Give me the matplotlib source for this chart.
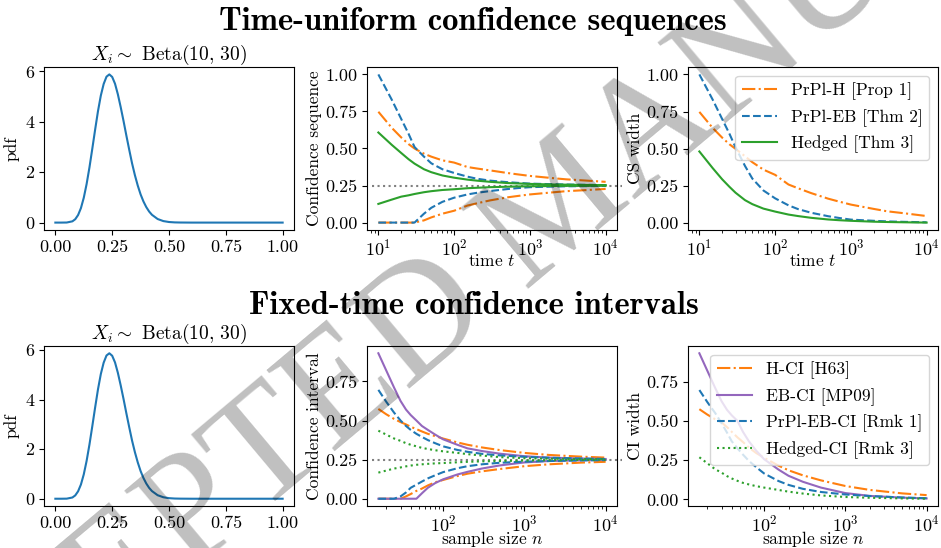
import numpy as np
import matplotlib
matplotlib.use('Agg')
import matplotlib.pyplot as plt
from matplotlib.ticker import FormatStrFormatter

plt.rcParams['font.family'] = 'cmr10'
plt.rcParams['mathtext.fontset'] = 'cm'
plt.rcParams['axes.formatter.use_mathtext'] = True
plt.rcParams['font.size'] = 13
plt.rcParams['axes.labelsize'] = 12.5

# Beta(10, 30) density
x_pdf = [0, 0.025, 0.05, 0.075, 0.0875, 0.1, 0.1125, 0.125, 0.1375, 0.15, 0.1625, 0.175,
         0.1875, 0.2, 0.2125, 0.225, 0.2375, 0.25, 0.2625, 0.275, 0.2875, 0.3, 0.3125,
         0.325, 0.3375, 0.35, 0.3625, 0.375, 0.3875, 0.4, 0.4125, 0.425, 0.45, 0.475,
         0.5, 0.525, 0.55, 0.6, 0.7, 0.8, 0.9, 1.0]
y_pdf = [0, 0, 0.003, 0.05, 0.134, 0.30, 0.575, 0.985, 1.53, 2.19, 2.93, 3.69,
         4.42, 5.04, 5.50, 5.79, 5.88, 5.78, 5.51, 5.09, 4.58, 4.03, 3.45,
         2.89, 2.35, 1.88, 1.47, 1.12, 0.84, 0.615, 0.44, 0.309, 0.142, 0.060,
         0.023, 0.008, 0.003, 0, 0, 0, 0, 0]

# time-uniform confidence sequences (lower / upper bounds)
t_grid = [10, 15, 20, 25, 30, 40, 50, 70, 100, 150, 200, 300, 500, 700, 1000, 2000, 3000, 5000, 10000]
h_hi = [0.748, 0.64, 0.575, 0.53, 0.50, 0.465, 0.445, 0.42, 0.405, 0.375, 0.365, 0.352, 0.335, 0.325, 0.315, 0.30, 0.292, 0.285, 0.275]
h_lo = [0, 0, 0, 0, 0, 0.015, 0.035, 0.06, 0.08, 0.115, 0.13, 0.15, 0.17, 0.18, 0.19, 0.204, 0.212, 0.218, 0.227]
eb_hi = [1.00, 0.83, 0.70, 0.60, 0.51, 0.445, 0.40, 0.36, 0.335, 0.31, 0.296, 0.283, 0.273, 0.268, 0.263, 0.259, 0.257, 0.255, 0.253]
eb_lo = [0, 0, 0, 0, 0, 0.06, 0.10, 0.14, 0.168, 0.19, 0.201, 0.213, 0.226, 0.233, 0.239, 0.243, 0.245, 0.246, 0.247]
hg_hi = [0.608, 0.525, 0.47, 0.428, 0.398, 0.36, 0.34, 0.318, 0.303, 0.29, 0.283, 0.275, 0.267, 0.264, 0.261, 0.257, 0.256, 0.254, 0.253]
hg_lo = [0.126, 0.155, 0.175, 0.184, 0.193, 0.205, 0.212, 0.22, 0.225, 0.232, 0.235, 0.239, 0.242, 0.244, 0.245, 0.247, 0.248, 0.248, 0.249]

# fixed-time confidence intervals (lower / upper bounds)
n_grid = [16, 20, 25, 30, 35, 40, 47, 55, 65, 80, 100, 150, 200, 300, 500, 1000, 2000, 5000, 10000]
hci_hi = [0.574, 0.54, 0.51, 0.49, 0.475, 0.46, 0.445, 0.43, 0.415, 0.40, 0.385, 0.36, 0.345, 0.328, 0.311, 0.293, 0.28, 0.269, 0.263]
hci_lo = [0, 0, 0, 0, 0.015, 0.03, 0.05, 0.065, 0.085, 0.105, 0.12, 0.145, 0.16, 0.175, 0.19, 0.208, 0.22, 0.231, 0.236]
ebci_hi = [0.93, 0.82, 0.71, 0.625, 0.57, 0.535, 0.50, 0.465, 0.44, 0.41, 0.38, 0.345, 0.322, 0.305, 0.288, 0.272, 0.263, 0.257, 0.254]
ebci_lo = [0, 0, 0, 0, 0, 0, 0, 0.035, 0.07, 0.1, 0.124, 0.155, 0.172, 0.193, 0.213, 0.232, 0.241, 0.246, 0.248]
prpl_hi = [0.696, 0.62, 0.55, 0.50, 0.465, 0.44, 0.415, 0.395, 0.375, 0.355, 0.335, 0.312, 0.30, 0.287, 0.277, 0.268, 0.262, 0.257, 0.254]
prpl_lo = [0, 0, 0, 0.015, 0.04, 0.07, 0.09, 0.11, 0.13, 0.15, 0.17, 0.195, 0.208, 0.22, 0.23, 0.237, 0.241, 0.245, 0.247]
hgci_hi = [0.435, 0.41, 0.385, 0.37, 0.355, 0.345, 0.335, 0.325, 0.318, 0.31, 0.303, 0.293, 0.285, 0.276, 0.266, 0.259, 0.256, 0.254, 0.253]
hgci_lo = [0.167, 0.18, 0.193, 0.2, 0.207, 0.212, 0.217, 0.22, 0.223, 0.226, 0.228, 0.233, 0.236, 0.239, 0.241, 0.244, 0.246, 0.248, 0.249]

true_mean = 0.25

ORANGE, BLUE, GREEN, PURPLE = '#ff7f0e', '#1f77b4', '#2ca02c', '#9467bd'

cs_methods = [
    ('PrPl-H [Prop 1]', h_lo, h_hi, ORANGE, '-.'),
    ('PrPl-EB [Thm 2]', eb_lo, eb_hi, BLUE, '--'),
    ('Hedged [Thm 3]', hg_lo, hg_hi, GREEN, '-'),
]
ci_methods = [
    ('H-CI [H63]', hci_lo, hci_hi, ORANGE, '-.'),
    ('EB-CI [MP09]', ebci_lo, ebci_hi, PURPLE, '-'),
    ('PrPl-EB-CI [Rmk 1]', prpl_lo, prpl_hi, BLUE, '--'),
    ('Hedged-CI [Rmk 3]', hgci_lo, hgci_hi, GREEN, ':'),
]

W, H = 941, 548
fig = plt.figure(figsize=(W / 100, H / 100), dpi=100)


def px_axes(left, top, right, bottom):
    return fig.add_axes([left / W, 1 - bottom / H, (right - left) / W, (bottom - top) / H])


def draw_row(top, bottom, grid, methods, xlab, ylab_mid, ylab_right, yticks):
    ax1 = px_axes(44, top, 294, bottom)
    ax1.plot(x_pdf, y_pdf, color=BLUE, lw=1.5)
    ax1.set_title(r'$X_i \sim$ Beta(10, 30)', fontsize=14, pad=5)
    ax1.set_ylabel('pdf')
    ax1.set_xticks([0, 0.25, 0.5, 0.75, 1.0])
    ax1.set_yticks([0, 2, 4, 6])
    ax1.xaxis.set_major_formatter(FormatStrFormatter('%.2f'))
    ax1.yaxis.set_major_formatter(FormatStrFormatter('%d'))

    ax2 = px_axes(367, top, 617, bottom)
    ax3 = px_axes(688, top, 938, bottom)
    for name, lo, hi, col, ls in methods:
        ax2.plot(grid, lo, color=col, ls=ls, lw=1.5)
        ax2.plot(grid, hi, color=col, ls=ls, lw=1.5)
        ax3.plot(grid, np.subtract(hi, lo), color=col, ls=ls, lw=1.5, label=name)
    ax2.axhline(true_mean, xmin=0.02, xmax=1.02, color='grey', ls=':', lw=1.5,
                clip_on=False, zorder=1)
    ax2.set_ylabel(ylab_mid, labelpad=2)
    ax3.set_ylabel(ylab_right, labelpad=2)
    for ax in (ax2, ax3):
        ax.set_xscale('log')
        ax.tick_params(axis='x', pad=2)
        ax.set_xlabel(xlab, labelpad=-4)
        ax.set_yticks(yticks)
        ax.yaxis.set_major_formatter(FormatStrFormatter('%.2f'))
    ax3.legend(loc='upper right', fontsize=12.5)


fig.text(473 / W, 1 - 21 / H, 'Time-uniform confidence sequences', family='cmb10',
         fontsize=23.5, ha='center', va='center')
draw_row(67, 230, t_grid, cs_methods, r'time $t$', 'Confidence sequence', 'CS width',
         [0, 0.25, 0.5, 0.75, 1.0])

fig.text(474 / W, 1 - 305 / H, 'Fixed-time confidence intervals', family='cmb10',
         fontsize=23.5, ha='center', va='center')
draw_row(346, 506, n_grid, ci_methods, r'sample size $n$', 'Confidence interval', 'CI width',
         [0, 0.25, 0.5, 0.75])

# grey manuscript watermark laid over everything
fig.text(563 / W, 1 - 209 / H, 'ACCEPTED MANUSCRIPT', family='Liberation Serif',
         fontsize=115, rotation=40, rotation_mode='anchor', ha='center', va='center',
         color='black', alpha=0.25, zorder=10)

fig.savefig('out.png', dpi=100)
